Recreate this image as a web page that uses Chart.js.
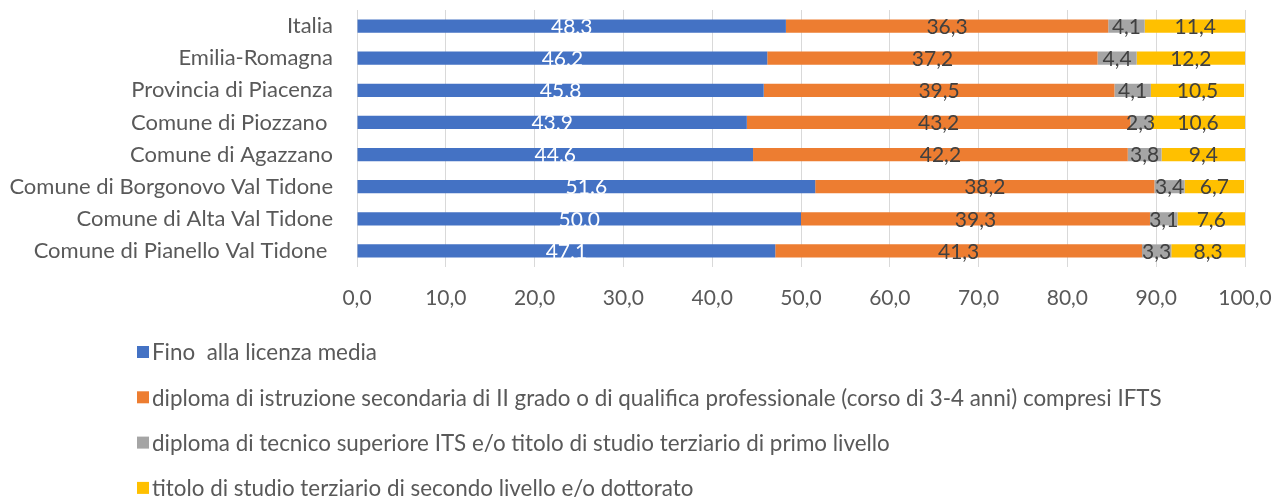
<!DOCTYPE html>
<html>
<head>
<meta charset="utf-8">
<script src="https://cdn.jsdelivr.net/npm/chart.js@4.4.0/dist/chart.umd.min.js"></script>
<style>
    html, body { margin: 0; padding: 0; background: #fff; }
    #wrap { position: relative; width: 1275px; height: 497px; }
</style>
</head>
<body>
<div id="wrap"><canvas id="chart" width="1275" height="497"></canvas></div>
<script>
// Data
const categories = [
    'Italia',
    'Emilia-Romagna',
    'Provincia di Piacenza',
    'Comune di Piozzano ',
    'Comune di Agazzano',
    'Comune di Borgonovo Val Tidone',
    'Comune di Alta Val Tidone',
    'Comune di Pianello Val Tidone '
];
const seriesNames = [
    'Fino  alla licenza media',
    'diploma di istruzione secondaria di II grado o di qualifica professionale (corso di 3-4 anni) compresi IFTS',
    'diploma di tecnico superiore ITS e/o titolo di studio terziario di primo livello',
    'titolo di studio terziario di secondo livello e/o dottorato'
];
const licenzaMedia = [48.3, 46.2, 45.8, 43.9, 44.6, 51.6, 50.0, 47.1];
const diplomaSecondaria = [36.3, 37.2, 39.5, 43.2, 42.2, 38.2, 39.3, 41.3];
const diplomaTecnico = [4.1, 4.4, 4.1, 2.3, 3.8, 3.4, 3.1, 3.3];
const terziarioSecondo = [11.4, 12.2, 10.5, 10.6, 9.4, 6.7, 7.6, 8.3];
const xTicks = [0, 10, 20, 30, 40, 50, 60, 70, 80, 90, 100];

const colors = ['#4472C4', '#ED7D31', '#A5A5A5', '#FFC000'];
const labelColors = ['#ffffff', '#404040', '#404040', '#404040'];
const FONT = 'Lato, "Open Sans", sans-serif';

// values drawn centred in each segment (first series uses a point like the original)
const barLabels = {
    id: 'barLabels',
    afterDatasetsDraw(chart) {
        const ctx = chart.ctx;
        ctx.save();
        ctx.font = '21px ' + FONT;
        ctx.textAlign = 'center';
        ctx.textBaseline = 'middle';
        chart.data.datasets.forEach((ds, i) => {
            const meta = chart.getDatasetMeta(i);
            meta.data.forEach((bar, j) => {
                const v = ds.data[j];
                let txt = v.toFixed(1);
                if (i > 0) txt = txt.replace('.', ',');
                const x = (bar.x + bar.base) / 2;
                ctx.fillStyle = labelColors[i];
                ctx.fillText(txt, x, bar.y + 1);
            });
        });
        ctx.restore();
    }
};

// vertical legend under the axis
const stackedLegend = {
    id: 'stackedLegend',
    afterDraw(chart) {
        const ctx = chart.ctx;
        ctx.save();
        ctx.font = '22.4px ' + FONT;
        ctx.textBaseline = 'middle';
        ctx.textAlign = 'left';
        chart.data.datasets.forEach((ds, i) => {
            const y = 352 + i * 45.3;
            ctx.fillStyle = ds.backgroundColor;
            ctx.fillRect(137, y - 6, 12, 12);
            ctx.fillStyle = '#595959';
            ctx.fillText(ds.label, 152, y + 1);
        });
        ctx.restore();
    }
};

const seriesData = [licenzaMedia, diplomaSecondaria, diplomaTecnico, terziarioSecondo];

new Chart(document.getElementById('chart').getContext('2d'), {
    type: 'bar',
    data: {
        labels: categories,
        datasets: seriesData.map((d, i) => ({
            label: seriesNames[i],
            data: d,
            backgroundColor: colors[i],
            borderColor: '#ffffff',
            borderWidth: { left: 1, right: 0, top: 0, bottom: 0 },
            barPercentage: 0.41,
            categoryPercentage: 1.0
        }))
    },
    options: {
        indexAxis: 'y',
        responsive: false,
        animation: false,
        layout: { padding: { left: 0, right: 30, top: 10, bottom: 180 } },
        plugins: {
            legend: { display: false },
            tooltip: { enabled: false }
        },
        scales: {
            x: {
                stacked: true,
                min: 0,
                max: 100,
                afterBuildTicks(scale) {
                    scale.ticks = xTicks.map(v => ({ value: v }));
                },
                afterFit(scale) {
                    scale.height = 50;
                    scale.paddingLeft = 0;
                    scale.paddingRight = 0;
                },
                grid: { color: '#d9d9d9', drawTicks: false, lineWidth: 1 },
                border: { display: false },
                ticks: {
                    padding: 19,
                    color: '#595959',
                    font: { family: FONT, size: 21 },
                    callback: v => v.toFixed(1).replace('.', ',')
                }
            },
            y: {
                stacked: true,
                afterFit(scale) {
                    scale.width = 357;
                    scale.paddingTop = 0;
                    scale.paddingBottom = 0;
                },
                grid: { display: false, drawTicks: false },
                border: { display: false },
                ticks: {
                    padding: 24,
                    color: '#595959',
                    font: { family: FONT, size: 22 }
                }
            }
        }
    },
    plugins: [barLabels, stackedLegend]
});
</script>
</body>
</html>
